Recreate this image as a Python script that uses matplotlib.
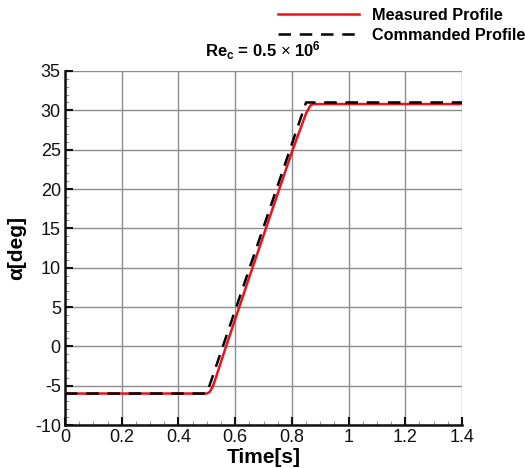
import matplotlib
matplotlib.use("Agg")
import matplotlib.pyplot as plt
from matplotlib.ticker import MultipleLocator

plt.rcParams['font.family'] = ['Liberation Sans', 'DejaVu Sans']
plt.rcParams['mathtext.fontset'] = 'custom'
plt.rcParams['mathtext.rm'] = 'Liberation Sans'
plt.rcParams['mathtext.bf'] = 'Liberation Sans:bold'
plt.rcParams['axes.unicode_minus'] = False

# Measured pitch profile (time [s], angle [deg])
measured_t = [0.0, 0.50, 0.51, 0.52, 0.53, 0.568, 0.65, 0.75, 0.803, 0.85, 0.865, 0.875, 1.4]
measured_a = [-6.0, -6.0, -5.8, -5.2, -4.2, 0.0, 8.8, 19.4, 25.0, 29.6, 30.6, 30.8, 30.8]

# Commanded pitch profile
commanded_t = [0.0, 0.50, 0.85, 1.4]
commanded_a = [-6.0, -6.0, 31.0, 31.0]

x_ticks = [0, 0.2, 0.4, 0.6, 0.8, 1.0, 1.2, 1.4]
x_tick_labels = ['0', '0.2', '0.4', '0.6', '0.8', '1', '1.2', '1.4']
y_ticks = [-10, -5, 0, 5, 10, 15, 20, 25, 30, 35]

fig = plt.figure(figsize=(5.25, 4.68), dpi=100)
ax = fig.add_axes([65 / 525, 43 / 468, 397 / 525, 354 / 468])

ax.plot(measured_t, measured_a, color='#e8141a', lw=1.8, label='Measured Profile', zorder=3)
ax.plot(commanded_t, commanded_a, color='black', lw=1.8, ls=(0, (5, 3.5)),
        label='Commanded Profile', zorder=4)

ax.set_xlim(0, 1.4)
ax.set_ylim(-10, 35)
ax.set_xticks(x_ticks)
ax.set_xticklabels(x_tick_labels)
ax.set_yticks(y_ticks)
ax.xaxis.set_minor_locator(MultipleLocator(0.05))
ax.yaxis.set_minor_locator(MultipleLocator(1))

ax.grid(True, which='major', color='#8c8c8c', lw=1.0)
ax.set_axisbelow(True)

for s in ['top', 'right']:
    ax.spines[s].set_visible(False)
for s in ['left', 'bottom']:
    ax.spines[s].set_linewidth(1.8)
    ax.spines[s].set_color('#111111')

ax.tick_params(axis='both', which='major', direction='in', length=6, width=1.5,
               labelsize=13, pad=3, colors='#111111')
ax.tick_params(axis='both', which='minor', direction='in', length=3, width=0.8,
               color='#999999')

ax.set_xlabel('Time[s]', fontsize=15, fontweight='bold', labelpad=1)
ax.set_ylabel('α[deg]', fontsize=15, fontweight='bold', labelpad=6)
ax.set_title(r'$\mathbf{Re_c}$ = 0.5 $\times$ $\mathbf{10^6}$', fontsize=12,
             fontweight='bold', pad=10)

leg = ax.legend(loc='upper left', bbox_to_anchor=(270 / 525, 1.0),
                bbox_transform=fig.transFigure, frameon=False,
                prop={'weight': 'bold', 'size': 11.7}, handlelength=5.0,
                handletextpad=0.75, labelspacing=0.3, borderaxespad=0.1)

fig.savefig('out.png', dpi=100)
